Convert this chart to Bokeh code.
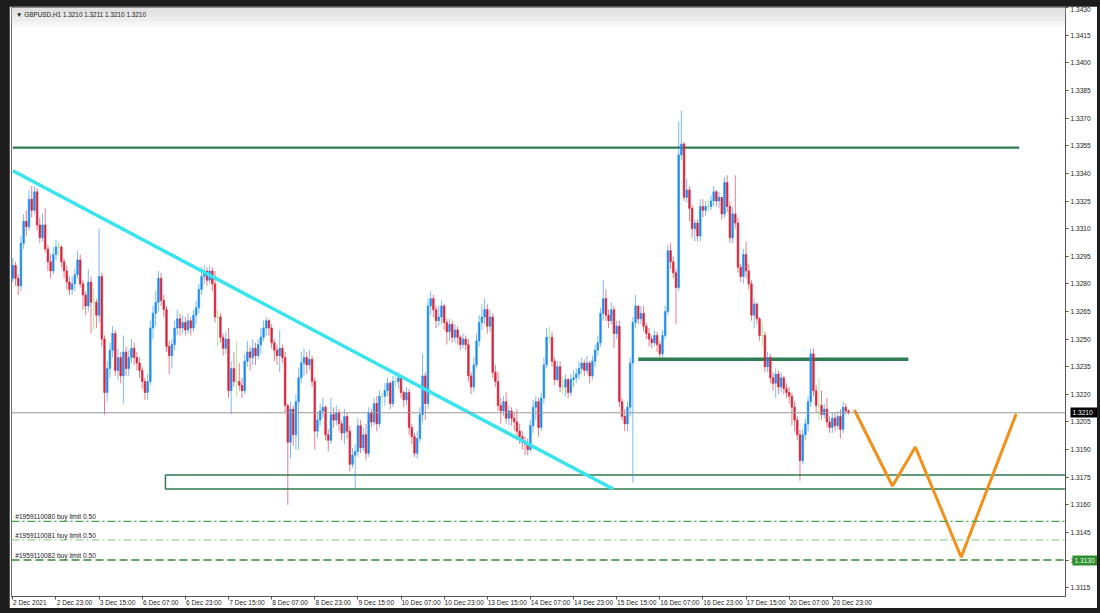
from bokeh.plotting import figure
from bokeh.layouts import column
from bokeh.models import (Range1d, FixedTicker, Label, BoxAnnotation, ColumnDataSource, Span,
                          PrintfTickFormatter, LinearAxis)
from bokeh.embed import file_html
from bokeh.resources import INLINE

# ---------------- data (GBPUSD H1) ----------------
first_open = 1.3283
closes = [
 1.3290,1.3283,1.3279,1.3302,1.3314,1.3311,1.3326,1.3320,1.3330,1.3312,
 1.3305,1.3312,1.3299,1.3292,1.3287,1.3296,1.3300,1.3300,1.3292,1.3287,
 1.3281,1.3277,1.3280,1.3285,1.3293,1.3280,1.3274,1.3268,1.3281,1.3270,
 1.3270,1.3263,1.3284,1.3250,1.3221,1.3234,1.3244,1.3253,1.3233,1.3240,
 1.3230,1.3243,1.3234,1.3240,1.3245,1.3240,1.3237,1.3233,1.3227,1.3221,
 1.3227,1.3256,1.3264,1.3270,1.3283,1.3271,1.3266,1.3246,1.3241,1.3247,
 1.3256,1.3261,1.3256,1.3259,1.3255,1.3260,1.3256,1.3263,1.3267,1.3277,
 1.3284,1.3287,1.3282,1.3287,1.3280,1.3262,1.3262,1.3251,1.3245,1.3250,
 1.3222,1.3234,1.3227,1.3227,1.3225,1.3222,1.3238,1.3243,1.3240,1.3245,
 1.3241,1.3247,1.3251,1.3256,1.3260,1.3256,1.3248,1.3244,1.3241,1.3245,
 1.3240,1.3214,1.3194,1.3212,1.3198,1.3216,1.3229,1.3237,1.3240,1.3236,
 1.3239,1.3227,1.3200,1.3206,1.3211,1.3213,1.3198,1.3195,1.3209,1.3206,
 1.3210,1.3204,1.3199,1.3208,1.3200,1.3182,1.3187,1.3189,1.3203,1.3191,
 1.3198,1.3188,1.3210,1.3205,1.3215,1.3204,1.3219,1.3219,1.3222,1.3226,
 1.3215,1.3227,1.3227,1.3229,1.3221,1.3217,1.3221,1.3202,1.3197,1.3188,
 1.3196,1.3209,1.3230,1.3215,1.3268,1.3272,1.3266,1.3260,1.3262,1.3268,
 1.3259,1.3254,1.3258,1.3251,1.3255,1.3251,1.3247,1.3250,1.3247,1.3230,
 1.3224,1.3236,1.3249,1.3259,1.3262,1.3266,1.3257,1.3262,1.3232,1.3227,
 1.3214,1.3211,1.3216,1.3207,1.3211,1.3207,1.3205,1.3200,1.3197,1.3194,
 1.3193,1.3190,1.3203,1.3213,1.3216,1.3202,1.3218,1.3236,1.3251,1.3251,
 1.3238,1.3228,1.3235,1.3224,1.3224,1.3228,1.3221,1.3228,1.3229,1.3231,
 1.3234,1.3237,1.3233,1.3237,1.3230,1.3238,1.3244,1.3248,1.3264,1.3272,
 1.3263,1.3260,1.3266,1.3253,1.3257,1.3216,1.3208,1.3204,1.3213,1.3237,
 1.3259,1.3268,1.3261,1.3264,1.3257,1.3253,1.3250,1.3248,1.3252,1.3247,
 1.3242,1.3252,1.3265,1.3298,1.3292,1.3286,1.3278,1.3350,1.3356,1.3327,
 1.3331,1.3321,1.3310,1.3313,1.3306,1.3322,1.3320,1.3322,1.3322,1.3325,
 1.3330,1.3325,1.3327,1.3318,1.3335,1.3322,1.3305,1.3318,1.3313,1.3289,
 1.3284,1.3296,1.3287,1.3280,1.3263,1.3269,1.3261,1.3252,1.3252,1.3235,
 1.3240,1.3229,1.3226,1.3231,1.3224,1.3229,1.3223,1.3221,1.3219,1.3213,
 1.3206,1.3198,1.3184,1.3198,1.3204,1.3216,1.3242,1.3222,1.3214,1.3214,
 1.3209,1.3212,1.3205,1.3202,1.3207,1.3203,1.3208,1.3201,1.3213,1.3211,
 1.3210]
highs = [
 1.3294,1.3292,1.3285,1.3306,1.3318,1.3320,1.3331,1.3333,1.3333,1.3332,
 1.3316,1.3318,1.3321,1.3301,1.3296,1.3300,1.3304,1.3303,1.3301,1.3294,
 1.3290,1.3284,1.3284,1.3288,1.3298,1.3296,1.3282,1.3276,1.3288,1.3284,
 1.3278,1.3272,1.3310,1.3286,1.3252,1.3238,1.3248,1.3257,1.3255,1.3245,
 1.3243,1.3252,1.3246,1.3244,1.3250,1.3248,1.3243,1.3240,1.3235,1.3229,
 1.3231,1.3260,1.3268,1.3276,1.3287,1.3286,1.3274,1.3268,1.3249,1.3250,
 1.3260,1.3266,1.3264,1.3263,1.3262,1.3264,1.3262,1.3266,1.3271,1.3280,
 1.3289,1.3290,1.3289,1.3290,1.3289,1.3287,1.3266,1.3264,1.3253,1.3254,
 1.3256,1.3238,1.3243,1.3249,1.3237,1.3229,1.3242,1.3249,1.3246,1.3250,
 1.3248,1.3250,1.3256,1.3260,1.3262,1.3261,1.3258,1.3250,1.3247,1.3255,
 1.3247,1.3243,1.3215,1.3216,1.3214,1.3220,1.3234,1.3243,1.3245,1.3243,
 1.3244,1.3241,1.3229,1.3210,1.3215,1.3218,1.3214,1.3201,1.3218,1.3213,
 1.3214,1.3212,1.3206,1.3212,1.3210,1.3203,1.3191,1.3193,1.3207,1.3206,
 1.3202,1.3204,1.3213,1.3212,1.3218,1.3219,1.3222,1.3221,1.3226,1.3229,
 1.3227,1.3230,1.3232,1.3232,1.3229,1.3222,1.3224,1.3223,1.3204,1.3199,
 1.3200,1.3213,1.3242,1.3232,1.3272,1.3276,1.3274,1.3268,1.3268,1.3271,
 1.3269,1.3261,1.3261,1.3260,1.3258,1.3257,1.3252,1.3253,1.3252,1.3250,
 1.3232,1.3240,1.3253,1.3263,1.3269,1.3272,1.3269,1.3266,1.3264,1.3236,
 1.3232,1.3218,1.3219,1.3221,1.3214,1.3213,1.3210,1.3212,1.3204,1.3200,
 1.3197,1.3196,1.3206,1.3217,1.3219,1.3218,1.3221,1.3240,1.3256,1.3257,
 1.3254,1.3240,1.3238,1.3238,1.3230,1.3231,1.3229,1.3231,1.3233,1.3234,
 1.3238,1.3240,1.3239,1.3241,1.3238,1.3241,1.3247,1.3252,1.3267,1.3282,
 1.3277,1.3266,1.3270,1.3268,1.3260,1.3260,1.3218,1.3212,1.3216,1.3240,
 1.3262,1.3274,1.3267,1.3268,1.3268,1.3259,1.3256,1.3252,1.3255,1.3254,
 1.3249,1.3255,1.3268,1.3301,1.3302,1.3295,1.3288,1.3368,1.3374,1.3357,
 1.3337,1.3333,1.3323,1.3315,1.3315,1.3326,1.3326,1.3325,1.3326,1.3328,
 1.3333,1.3331,1.3330,1.3327,1.3338,1.3339,1.3325,1.3322,1.3339,1.3316,
 1.3291,1.3299,1.3303,1.3291,1.3282,1.3272,1.3270,1.3262,1.3259,1.3254,
 1.3243,1.3242,1.3232,1.3234,1.3233,1.3232,1.3230,1.3226,1.3224,1.3221,
 1.3216,1.3208,1.3201,1.3201,1.3207,1.3219,1.3245,1.3245,1.3225,1.3229,
 1.3222,1.3215,1.3218,1.3208,1.3210,1.3210,1.3211,1.3212,1.3216,1.3215,
 1.3212]
lows = [
 1.3281,1.3279,1.3274,1.3276,1.3299,1.3306,1.3309,1.3316,1.3318,1.3309,
 1.3302,1.3303,1.3297,1.3287,1.3283,1.3285,1.3293,1.3295,1.3289,1.3283,
 1.3277,1.3274,1.3274,1.3276,1.3283,1.3278,1.3266,1.3263,1.3265,1.3253,
 1.3255,1.3256,1.3259,1.3246,1.3209,1.3216,1.3229,1.3240,1.3230,1.3228,
 1.3226,1.3215,1.3230,1.3230,1.3237,1.3236,1.3233,1.3229,1.3223,1.3217,
 1.3217,1.3225,1.3250,1.3257,1.3265,1.3268,1.3262,1.3243,1.3231,1.3234,
 1.3244,1.3252,1.3252,1.3253,1.3252,1.3253,1.3252,1.3254,1.3258,1.3264,
 1.3274,1.3280,1.3279,1.3280,1.3276,1.3259,1.3246,1.3248,1.3241,1.3242,
 1.3218,1.3209,1.3224,1.3219,1.3222,1.3218,1.3220,1.3235,1.3233,1.3236,
 1.3236,1.3239,1.3242,1.3249,1.3252,1.3252,1.3245,1.3238,1.3236,1.3232,
 1.3237,1.3210,1.3160,1.3185,1.3192,1.3190,1.3190,1.3226,1.3230,1.3231,
 1.3233,1.3224,1.3190,1.3196,1.3203,1.3207,1.3195,1.3189,1.3193,1.3202,
 1.3203,1.3200,1.3195,1.3193,1.3196,1.3178,1.3180,1.3169,1.3186,1.3188,
 1.3189,1.3184,1.3186,1.3202,1.3203,1.3200,1.3202,1.3213,1.3214,1.3219,
 1.3212,1.3213,1.3224,1.3223,1.3218,1.3213,1.3214,1.3198,1.3193,1.3186,
 1.3185,1.3194,1.3205,1.3206,1.3212,1.3263,1.3262,1.3256,1.3257,1.3258,
 1.3255,1.3247,1.3249,1.3248,1.3248,1.3247,1.3244,1.3245,1.3244,1.3227,
 1.3220,1.3221,1.3234,1.3246,1.3255,1.3258,1.3253,1.3254,1.3229,1.3224,
 1.3211,1.3204,1.3208,1.3204,1.3203,1.3203,1.3200,1.3197,1.3193,1.3190,
 1.3187,1.3187,1.3189,1.3199,1.3206,1.3197,1.3200,1.3215,1.3234,1.3247,
 1.3235,1.3225,1.3227,1.3221,1.3220,1.3219,1.3218,1.3219,1.3224,1.3226,
 1.3228,1.3231,1.3230,1.3231,1.3226,1.3228,1.3235,1.3241,1.3246,1.3260,
 1.3260,1.3256,1.3258,1.3245,1.3250,1.3213,1.3206,1.3200,1.3200,1.3208,
 1.3172,1.3256,1.3258,1.3258,1.3254,1.3250,1.3246,1.3245,1.3246,1.3243,
 1.3240,1.3240,1.3250,1.3263,1.3288,1.3283,1.3258,1.3276,1.3347,1.3325,
 1.3324,1.3314,1.3305,1.3303,1.3303,1.3303,1.3316,1.3317,1.3319,1.3320,
 1.3322,1.3322,1.3321,1.3315,1.3316,1.3319,1.3302,1.3302,1.3310,1.3286,
 1.3281,1.3280,1.3283,1.3277,1.3260,1.3256,1.3258,1.3249,1.3246,1.3232,
 1.3232,1.3226,1.3222,1.3218,1.3220,1.3221,1.3220,1.3218,1.3215,1.3203,
 1.3200,1.3195,1.3173,1.3182,1.3195,1.3200,1.3213,1.3219,1.3210,1.3206,
 1.3206,1.3207,1.3202,1.3199,1.3199,1.3200,1.3201,1.3196,1.3199,1.3209,
 1.3209]

time_tick_bars = [0, 16, 32, 48, 64, 80, 96, 112, 128, 144, 160, 176, 192, 208, 224, 240, 256, 272, 288, 304]
time_tick_labels = ["2 Dec 2021", "2 Dec 23:00", "3 Dec 15:00", "6 Dec 07:00", "6 Dec 23:00",
                    "7 Dec 15:00", "8 Dec 07:00", "8 Dec 23:00", "9 Dec 15:00", "10 Dec 07:00",
                    "10 Dec 23:00", "13 Dec 15:00", "14 Dec 07:00", "14 Dec 23:00", "15 Dec 15:00",
                    "16 Dec 07:00", "16 Dec 23:00", "17 Dec 15:00", "20 Dec 07:00", "20 Dec 23:00"]
price_ticks = [1.3115, 1.3130, 1.3145, 1.3160, 1.3175, 1.3190, 1.3205, 1.3220, 1.3235, 1.3250, 1.3265,
               1.3280, 1.3295, 1.3310, 1.3325, 1.3340, 1.3355, 1.3370, 1.3385, 1.3400, 1.3415, 1.3430]

bid_price = 1.3210
header_text = "\u25bc GBPUSD,H1  1.3210 1.3211 1.3210 1.3210"

resistance_level = 1.3354
resistance_span = [0, 373.3]
mid_level = 1.3239
mid_span = [232, 332.2]
zone_low, zone_high = 1.31686, 1.31762
zone_start = 56.6
trend_bars = [0, 222.7]
trend_prices = [1.33414, 1.31686]
proj_bars = [312.2, 326.3, 334.8, 351.8, 372.2]
proj_prices = [1.32115, 1.31702, 1.31914, 1.31316, 1.32094]
order_levels = [1.3151, 1.3141, 1.3130]
order_texts = ["#1959110080 buy limit 0.50", "#1959110081 buy limit 0.50", "#1959110082 buy limit 0.50"]

# ---------------- build ----------------
FONT = "Liberation Sans"
FS = "6.6px"
BAR_PX = 2.703
opens = [first_open] + closes[:-1]
n = len(closes)
xs = list(range(n))
UP, DOWN, DOJI = "#1f8ef1", "#d7263d", "#7ed957"
cols, tops, bots, hi, lo = [], [], [], [], []
for o, c, h, l in zip(opens, closes, highs, lows):
    if round(c, 5) > round(o, 5):
        cols.append(UP)
    elif round(c, 5) < round(o, 5):
        cols.append(DOWN)
    else:
        cols.append(DOJI)
    tops.append(max(o, c))
    bots.append(min(o, c))
    hi.append(max(h, o, c))
    lo.append(min(l, o, c))
src = ColumnDataSource(dict(x=xs, top=tops, bottom=bots, high=hi, low=lo, color=cols))

W, H = 1088, 602
p = figure(width=W, height=H, output_backend="svg", toolbar_location=None,
           x_range=Range1d(-0.5, 390.5), y_range=Range1d(1.31102, 1.34301),
           y_axis_location="right", x_axis_location=None,
           min_border_left=2, min_border_top=1, min_border_bottom=0, min_border_right=0,
           background_fill_color="white", border_fill_color="white",
           outline_line_color="#6e6e6e", outline_line_width=1)
p.grid.visible = False

# header gradient strip
for b, a in [(1.34200, 0.25), (1.34225, 0.25), (1.34250, 0.3), (1.34275, 0.35)]:
    p.add_layout(BoxAnnotation(bottom=b, fill_color="#d6d6d6", fill_alpha=a, line_alpha=0))

# bottom axis 1: tick marks only
xa = LinearAxis(ticker=FixedTicker(ticks=time_tick_bars),
                major_label_overrides={b: "" for b in time_tick_bars},
                major_label_text_font_size="0px", major_label_standoff=0,
                axis_line_color="#555555", major_tick_line_color="#555555",
                major_tick_in=0, major_tick_out=3, minor_tick_line_color=None)
p.add_layout(xa, "below")
# bottom axis 2: labels, left-aligned at the ticks (MT4 style)
label_pos = [b + (len(t) * 3.1 / 2 + 1.5) / BAR_PX for b, t in zip(time_tick_bars, time_tick_labels)]
xl = LinearAxis(ticker=FixedTicker(ticks=label_pos),
                major_label_overrides={pos: t for pos, t in zip(label_pos, time_tick_labels)},
                axis_line_color=None, major_tick_line_color=None, minor_tick_line_color=None,
                major_tick_in=0, major_tick_out=0,
                major_label_text_font=FONT, major_label_text_font_size=FS,
                major_label_text_color="#222222", major_label_standoff=-1)
p.add_layout(xl, "below")

ya = p.yaxis[0]
ya.ticker = FixedTicker(ticks=price_ticks)
ya.formatter = PrintfTickFormatter(format="%.4f")
ya.axis_line_color = "#555555"
ya.major_tick_line_color = "#555555"
ya.major_tick_in = 0
ya.major_tick_out = 3
ya.minor_tick_line_color = None
ya.major_label_text_font = FONT
ya.major_label_text_font_size = FS
ya.major_label_text_color = "#222222"
ya.major_label_standoff = 2

# price tags drawn over the right axis: a thick tick as the box, its label as the text
for price, txt, box, fg in [(bid_price, "1.3210", "black", "white"),
                            (order_levels[2], "1.3130", "#2f8f2f", "#eaffea")]:
    tag = LinearAxis(ticker=FixedTicker(ticks=[price]), major_label_overrides={price: txt},
                     axis_line_color=None, minor_tick_line_color=None,
                     major_tick_line_color=box, major_tick_line_width=10, major_tick_line_cap="butt",
                     major_tick_in=23, major_tick_out=5, major_label_standoff=-26,
                     major_label_text_font=FONT, major_label_text_font_size=FS,
                     major_label_text_color=fg)
    p.add_layout(tag, "right")

# horizontal level lines
p.add_layout(Span(location=bid_price, dimension="width", line_color="#9a9a9a", line_width=1))
dash_styles = [("#45a84c", "8 3 2 3", 1.2), ("#95d394", "8 3 2 3", 1.2), ("#2f8a33", "8 4", 1.6)]
for lvl, (c, d, w), txt in zip(order_levels, dash_styles, order_texts):
    p.add_layout(Span(location=lvl, dimension="width", line_color=c, line_dash=d, line_width=w))
    p.add_layout(Label(x=0.9, y=lvl, y_offset=1, text=txt, text_font=FONT, text_font_size=FS,
                       text_color="#222222", text_baseline="bottom"))

GREEN = "#2f7d50"
p.line(resistance_span, [resistance_level, resistance_level], line_color=GREEN, line_width=2.2)
p.line(mid_span, [mid_level, mid_level], line_color=GREEN, line_width=3.5)
p.quad(left=[zone_start], right=[400], bottom=[zone_low], top=[zone_high],
       fill_alpha=0, line_color=GREEN, line_width=1.5)

# candles
p.segment(x0="x", y0="low", x1="x", y1="high", source=src, line_color="color", line_alpha=0.6, line_width=1)
p.vbar(x="x", width=0.62, top="top", bottom="bottom", source=src, fill_color="color",
       line_color="color", line_width=0.6)

# trend line and projection
p.line(trend_bars, trend_prices, line_color="#38e4ee", line_width=3.5)
p.line(proj_bars, proj_prices, line_color="#f39019", line_width=3)

# header text
p.add_layout(Label(x=1.2, y=1.34265, text=header_text, text_font=FONT, text_font_size="6.4px",
                   text_color="#222222", text_baseline="middle"))

page = column(p, styles={"background-color": "#1c1c1c", "padding": "6px 3px 5px 9px"})
open("out.html", "w").write(file_html(page, INLINE))
